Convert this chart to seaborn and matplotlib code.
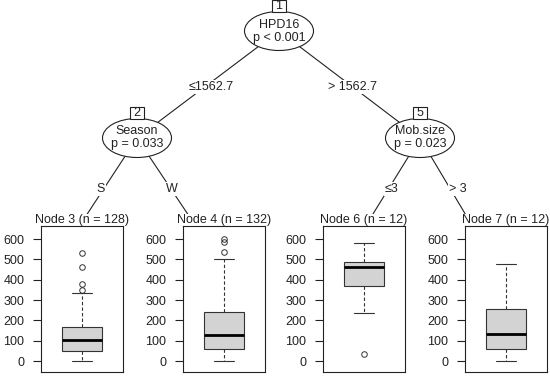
import seaborn as sns
import matplotlib.pyplot as plt
from matplotlib.patches import Ellipse, Rectangle

# inner nodes
inner_ids = [1, 2, 5]
inner_vars = ["HPD16", "Season", "Mob.size"]
inner_p = ["p < 0.001", "p = 0.033", "p = 0.023"]

# edges: parent -> child with split label
edge_from = [1, 1, 2, 2, 5, 5]
edge_to = [2, 5, 3, 4, 6, 7]
edge_labels = ["≤1562.7", "> 1562.7", "S", "W", "≤3", "> 3"]

# terminal nodes, boxplot summaries
leaf_ids = [3, 4, 6, 7]
leaf_n = [128, 132, 12, 12]
whis_lo = [0, 0, 236, 0]
q1 = [48, 59, 370, 59]
med = [101, 127, 462, 135]
q3 = [165, 243, 487, 256]
whis_hi = [333, 502, 579, 475]
fliers = [[347, 378, 460, 533], [536, 586, 598], [33], []]
yticks = [0, 100, 200, 300, 400, 500, 600]

# layout in pixels (550 x 378 canvas, y downwards)
W, H = 550, 378
node_xy = {1: (279, 31), 2: (137, 138), 5: (420, 138),
           3: (82, 222), 4: (193, 222), 6: (368, 222), 7: (470, 222)}
label_xy = [(211, 87), (353, 87), (101, 189), (172, 189), (392, 189), (458, 189)]
panel_left = [41, 183, 323, 465]
panel_w, panel_top, panel_bot = 82, 226, 372

sns.set_theme(style="ticks")
plt.rcParams['font.family'] = ['Liberation Sans', 'DejaVu Sans']
plt.rcParams['font.size'] = 9
ink = "#222222"

fig = plt.figure(figsize=(W / 100, H / 100), dpi=100)
tree = fig.add_axes([0, 0, 1, 1])
tree.set_xlim(0, W)
tree.set_ylim(H, 0)
tree.axis('off')

# edges and their labels
for a, b, lab, (lx, ly) in zip(edge_from, edge_to, edge_labels, label_xy):
    (x0, y0), (x1, y1) = node_xy[a], node_xy[b]
    tree.plot([x0, x1], [y0, y1], color=ink, lw=0.8, zorder=1)
    tree.text(lx, ly, lab, ha='center', va='center', fontsize=9, color=ink, zorder=3,
              bbox=dict(facecolor='white', edgecolor='none', pad=0.5))

# inner nodes
for nid, var, p in zip(inner_ids, inner_vars, inner_p):
    x, y = node_xy[nid]
    tree.add_patch(Ellipse((x, y), 69, 39, facecolor='white', edgecolor=ink, lw=0.8, zorder=2))
    tree.text(x, y - 6.5, var, ha='center', va='center', fontsize=9, color=ink, zorder=3)
    tree.text(x, y + 6.5, p, ha='center', va='center', fontsize=9, color=ink, zorder=3)
    tree.add_patch(Rectangle((x - 7, y - 19.5 - 12), 14, 12, facecolor='white',
                             edgecolor=ink, lw=0.8, zorder=3))
    tree.text(x, y - 19.5 - 5.5, str(nid), ha='center', va='center', fontsize=9, color=ink, zorder=4)

# terminal nodes
for i, nid in enumerate(leaf_ids):
    left = panel_left[i]
    tree.text(left + panel_w / 2, panel_top - 6, f"Node {nid} (n = {leaf_n[i]})",
              ha='center', va='center', fontsize=9, color=ink, zorder=3,
              bbox=dict(facecolor='white', edgecolor='none', pad=0.3))
    ax = fig.add_axes([left / W, (H - panel_bot) / H, panel_w / W, (panel_bot - panel_top) / H])
    stats = [dict(whislo=whis_lo[i], q1=q1[i], med=med[i], q3=q3[i],
                  whishi=whis_hi[i], fliers=fliers[i])]
    ax.bxp(stats, positions=[1], widths=0.48, patch_artist=True,
           boxprops=dict(facecolor='#d3d3d3', edgecolor='#333333', lw=0.8),
           medianprops=dict(color='black', lw=2),
           whiskerprops=dict(color='#333333', lw=0.8, linestyle=(0, (3, 2))),
           capprops=dict(color='#333333', lw=0.8),
           flierprops=dict(marker='o', markerfacecolor='none', markeredgecolor='#333333',
                           markersize=4, markeredgewidth=0.7))
    ax.set_xlim(0.5, 1.5)
    ax.set_ylim(-54, 664)
    ax.set_xticks([])
    ax.set_yticks(yticks)
    ax.tick_params(axis='y', direction='out', length=5.5, width=0.8, pad=6.5,
                   labelsize=9, colors=ink)
    for s in ax.spines.values():
        s.set_visible(True)
        s.set_color(ink)
        s.set_linewidth(0.8)

fig.savefig("out.png", dpi=100)
